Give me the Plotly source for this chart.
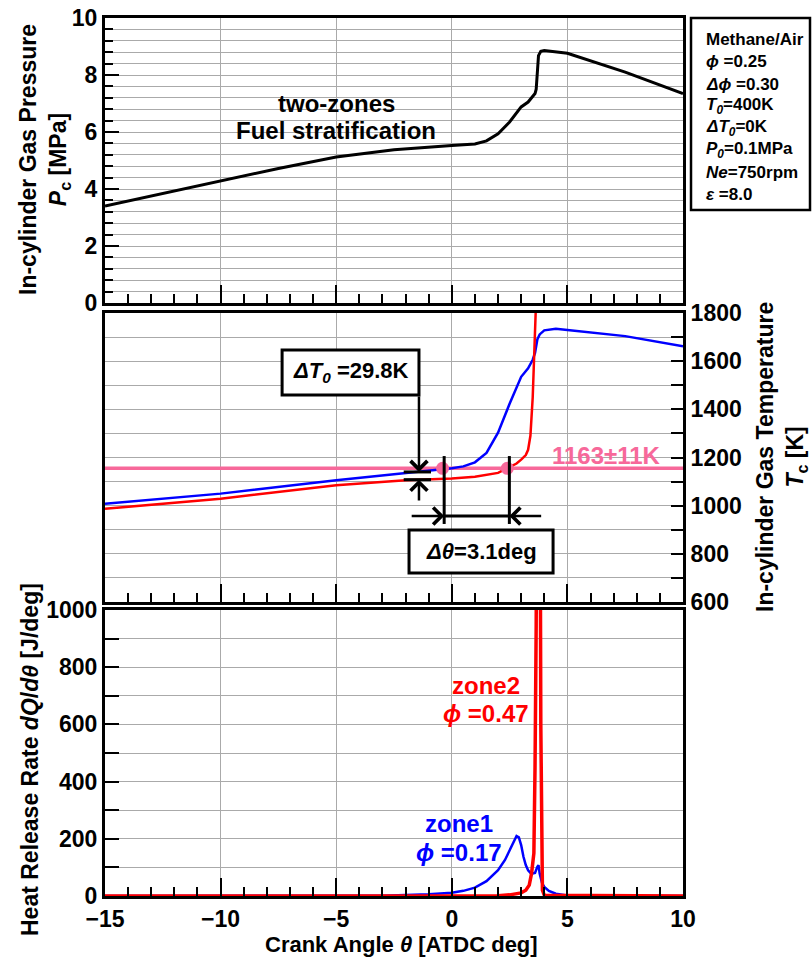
import plotly.graph_objects as go

# ---------------- data ----------------
theta_p = [-15, -12.5, -10, -7.5, -5, -2.5, 0, 1, 1.5, 2, 2.5, 3, 3.3, 3.5, 3.6, 3.65, 3.7, 3.75, 3.85, 4, 5, 7.5, 10]
pressure = [3.4, 3.84, 4.28, 4.72, 5.12, 5.38, 5.53, 5.58, 5.69, 5.94, 6.35, 6.88, 7.05, 7.23, 7.35, 7.5, 8.27, 8.68, 8.83, 8.86, 8.76, 8.1, 7.35]

theta_t1 = [-15, -10, -5, -2, -1, 0, 0.5, 1, 1.5, 2, 2.5, 2.8, 3, 3.3, 3.5, 3.6, 3.7, 3.8, 4, 4.5, 5, 7.5, 10]
temp_zone1 = [1008, 1050, 1106, 1134, 1143, 1155, 1163, 1180, 1219, 1303, 1423, 1493, 1535, 1570, 1606, 1634, 1690, 1711, 1728, 1735, 1729, 1704, 1662]

theta_t2 = [-15, -10, -5, -2, 0, 1, 2, 2.4, 2.8, 3.0, 3.2, 3.3, 3.4, 3.5, 3.6, 3.7]
temp_zone2 = [987, 1029, 1085, 1106, 1113, 1120, 1136, 1155, 1175, 1191, 1210, 1232, 1290, 1450, 1700, 2000]

theta_h1 = [-15, -5, -3, -1, 0, 0.5, 1, 1.5, 2, 2.3, 2.5, 2.7, 2.8, 2.9, 3.0, 3.1, 3.2, 3.3, 3.4, 3.5, 3.6, 3.7, 3.75, 3.8, 3.9, 4.0, 4.2, 4.5, 5, 10]
hrr_zone1 = [0, 0, 1, 6, 11, 18, 29, 52, 90, 126, 161, 198, 210, 205, 178, 137, 108, 90, 81, 79, 81, 102, 108, 79, 46, 32, 18, 8, 2, 0]

theta_h2 = [-15, 1, 2, 2.5, 3.0, 3.2, 3.35, 3.45, 3.55, 3.6, 3.65, 3.7, 3.8, 3.85, 3.88, 3.92, 4.0, 10]
hrr_zone2 = [0, 0, 1, 4, 11, 20, 38, 79, 150, 450, 950, 2000, 2000, 600, 150, 20, 3, 0]

ign_theta = [-15, 10]
ign_temp = [1155, 1155]
ign_pts_theta = [-0.4, 2.4]
ign_pts_temp = [1155, 1155]

x_ticks = [-15, -10, -5, 0, 5, 10]
p_ticks = [0, 2, 4, 6, 8, 10]
t_ticks = [600, 800, 1000, 1200, 1400, 1600, 1800]
h_ticks = [0, 200, 400, 600, 800, 1000]

params = ["Methane/Air", "<i>ϕ</i> =0.25", "<i>Δϕ</i> =0.30", "<i>T<sub>0</sub></i>=400K",
          "<i>ΔT<sub>0</sub></i>=0K", "<i>P<sub>0</sub></i>=0.1MPa", "<i>Ne</i>=750rpm", "<i>ε</i> =8.0"]

# ---------------- style ----------------
FONT = "Liberation Sans, Arial, sans-serif"
BLUE = "#0000FF"
RED = "#FF0000"
PINK = "#F7689A"
GRID = "#AAAAAA"

# page coordinates of the plot area
W, H = 812, 960
PL, PR, PT, PB = 105, 683, 18, 896
PW, PH = PR - PL, PB - PT


def px(xp):
    return (xp - PL) / PW


def py(yp):
    return (PB - yp) / PH


fig = go.Figure()
fig.add_trace(go.Scatter(x=theta_p, y=pressure, xaxis="x", yaxis="y", mode="lines",
                         line=dict(color="black", width=3)))
fig.add_trace(go.Scatter(x=ign_theta, y=ign_temp, xaxis="x2", yaxis="y2", mode="lines",
                         line=dict(color=PINK, width=3.5)))
fig.add_trace(go.Scatter(x=theta_t1, y=temp_zone1, xaxis="x2", yaxis="y2", mode="lines",
                         line=dict(color=BLUE, width=2.5)))
fig.add_trace(go.Scatter(x=theta_t2, y=temp_zone2, xaxis="x2", yaxis="y2", mode="lines",
                         line=dict(color=RED, width=2.5)))
fig.add_trace(go.Scatter(x=ign_pts_theta, y=ign_pts_temp, xaxis="x2", yaxis="y2", mode="markers",
                         marker=dict(color=PINK, size=13)))
fig.add_trace(go.Scatter(x=theta_h1, y=hrr_zone1, xaxis="x3", yaxis="y3", mode="lines",
                         line=dict(color=BLUE, width=2.5)))
fig.add_trace(go.Scatter(x=theta_h2, y=hrr_zone2, xaxis="x3", yaxis="y3", mode="lines",
                         line=dict(color=RED, width=3.5)))

tickfont = dict(family=FONT, size=23, color="black", weight="bold")


def xax(anchor, labels):
    return dict(anchor=anchor, domain=[0, 1], range=[-15, 10], tickvals=x_ticks, automargin=False,
                showticklabels=labels, ticks="inside", ticklen=18, tickwidth=2, tickcolor="black",
                showgrid=True, gridcolor=GRID, gridwidth=1, zeroline=False,
                showline=True, linecolor="black", linewidth=3, mirror=True,
                minor=dict(dtick=1, tick0=0, ticks="inside", ticklen=9, tickwidth=2,
                           tickcolor="black", showgrid=False),
                tickfont=tickfont, layer="above traces")


def yax(anchor, domain, rng, tv, mdt, side="left", tl=14, mtl=8):
    return dict(anchor=anchor, domain=domain, range=rng, tickvals=tv, side=side, automargin=False,
                ticks="inside", ticklen=tl, tickwidth=2, tickcolor="black",
                showgrid=True, gridcolor=GRID, gridwidth=1, zeroline=False,
                showline=True, linecolor="black", linewidth=3, mirror=True,
                minor=dict(dtick=mdt, tick0=0, ticks="inside", ticklen=mtl, tickwidth=2,
                           tickcolor="black", showgrid=True, gridcolor=GRID, gridwidth=1),
                tickfont=tickfont)


fig.update_layout(
    width=W, height=H, autosize=False,
    margin=dict(l=PL, r=W - PR, t=PT, b=H - PB, autoexpand=False),
    plot_bgcolor="white", paper_bgcolor="white", showlegend=False,
    xaxis=xax("y", False),
    xaxis2=xax("y2", False),
    xaxis3=xax("y3", True),
    yaxis=yax("x", [py(303), 1.0], [0, 10], p_ticks, 0.4, tl=14, mtl=8),
    yaxis2=yax("x2", [py(602), py(313)], [600, 1800], t_ticks, 100, side="right", tl=12, mtl=12),
    yaxis3=yax("x3", [0.0, py(610)], [0, 1000], h_ticks, 100, tl=14, mtl=14),
)

ann = []
tf = lambda size, color="black": dict(family=FONT, size=size, color=color, weight="bold")

# axis titles
ann.append(dict(xref="paper", yref="paper", x=px(45), y=py(160), textangle=-90,
                text="In-cylinder Gas Pressure<br><i>P</i><sub>c</sub> [MPa]",
                showarrow=False, font=tf(23), xanchor="center", yanchor="middle"))
ann.append(dict(xref="paper", yref="paper", x=px(781), y=py(457), textangle=-90,
                text="In-cylinder Gas Temperature<br><i>T</i><sub>c</sub> [K]",
                showarrow=False, font=tf(23), xanchor="center", yanchor="middle"))
ann.append(dict(xref="paper", yref="paper", x=px(30), y=py(760), textangle=-90,
                text="Heat Release Rate <i>dQ</i>/<i>dθ</i> [J/deg]",
                showarrow=False, font=tf(23), xanchor="center", yanchor="middle"))
ann.append(dict(xref="paper", yref="paper", x=px(401), y=py(944),
                text="Crank Angle <i>θ</i> [ATDC deg]",
                showarrow=False, font=tf(22), xanchor="center", yanchor="middle"))

# top panel text
ann.append(dict(xref="x", yref="y", x=-5.0, y=7.0, text="two-zones", showarrow=False,
                font=tf(24), xanchor="center", yanchor="middle"))
ann.append(dict(xref="x", yref="y", x=-5.0, y=6.05, text="Fuel stratification", showarrow=False,
                font=tf(24), xanchor="center", yanchor="middle"))

# parameter box text
for i, line in enumerate(params):
    ann.append(dict(xref="paper", yref="paper", x=px(704), y=py(40 + 22 * i),
                    text=line, showarrow=False, font=tf(17), xanchor="left", yanchor="middle"))

# middle panel annotations
ann.append(dict(xref="x2", yref="y2", x=-4.38, y=1553, text="<i>ΔT<sub>0</sub></i> =29.8K",
                showarrow=False, font=tf(22), xanchor="center", yanchor="middle"))
ann.append(dict(xref="x2", yref="y2", x=1.27, y=810, text="<i>Δθ</i>=3.1deg",
                showarrow=False, font=tf(22), xanchor="center", yanchor="middle"))
ann.append(dict(xref="x2", yref="y2", x=6.7, y=1208, text="1163±11K",
                showarrow=False, font=tf(24, PINK), xanchor="center", yanchor="middle"))

arrow = dict(text="", showarrow=True, arrowhead=4, arrowsize=1.3, arrowwidth=2.5,
             arrowcolor="black", xref="x2", yref="y2", axref="x2", ayref="y2")
ann.append(dict(arrow, x=-1.42, y=1140, ax=-1.42, ay=1460))
ann.append(dict(arrow, x=-1.42, y=1108, ax=-1.42, ay=1015))
ann.append(dict(arrow, x=-0.33, y=957, ax=-1.8, ay=957))
ann.append(dict(arrow, x=2.49, y=957, ax=3.93, ay=957))

# bottom panel labels
ann.append(dict(xref="x3", yref="y3", x=1.5, y=735, text="zone2", showarrow=False,
                font=tf(24, RED), xanchor="center", yanchor="middle"))
ann.append(dict(xref="x3", yref="y3", x=1.5, y=637, text="<i>ϕ</i> =0.47", showarrow=False,
                font=tf(24, RED), xanchor="center", yanchor="middle"))
ann.append(dict(xref="x3", yref="y3", x=0.3, y=255, text="zone1", showarrow=False,
                font=tf(24, BLUE), xanchor="center", yanchor="middle"))
ann.append(dict(xref="x3", yref="y3", x=0.3, y=152, text="<i>ϕ</i> =0.17", showarrow=False,
                font=tf(24, BLUE), xanchor="center", yanchor="middle"))

fig.update_layout(annotations=ann)

shapes = []
# parameter box
shapes.append(dict(type="rect", xref="paper", yref="paper", x0=px(691), x1=px(810),
                   y0=py(210), y1=1.0, line=dict(color="black", width=2.5), fillcolor="white",
                   layer="below"))
# middle panel boxes
shapes.append(dict(type="rect", xref="x2", yref="y2", x0=-7.34, x1=-1.42, y0=1460, y1=1646,
                   line=dict(color="black", width=3), fillcolor="white"))
shapes.append(dict(type="rect", xref="x2", yref="y2", x0=-1.85, x1=4.38, y0=720, y1=899,
                   line=dict(color="black", width=3), fillcolor="white"))
# delta T0 bars
for tv in (1140, 1108):
    shapes.append(dict(type="line", xref="x2", yref="y2", x0=-2.08, x1=-0.9, y0=tv, y1=tv,
                       line=dict(color="black", width=3)))
# delta theta vertical markers
for xv in (-0.33, 2.49):
    shapes.append(dict(type="line", xref="x2", yref="y2", x0=xv, x1=xv, y0=924, y1=1206,
                       line=dict(color="black", width=3)))
shapes.append(dict(type="line", xref="x2", yref="y2", x0=-0.33, x1=2.49, y0=957, y1=957,
                   line=dict(color="black", width=3)))
fig.update_layout(shapes=shapes)

fig.write_html("out.html", config={"displayModeBar": False},
               post_script="document.body.style.margin='0';document.body.style.overflow='hidden';")
